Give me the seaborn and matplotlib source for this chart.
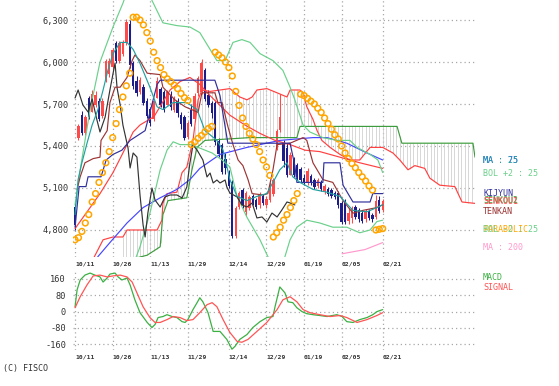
import numpy as np
import matplotlib
matplotlib.use("Agg")
import matplotlib.pyplot as plt
import seaborn as sns

# day index 0 = 10/11, last candle (02/21) = 90
date_pos = [0, 11, 22, 33, 45, 56, 67, 78, 90]
date_labels = ['10/11', '10/26', '11/13', '11/29', '12/14', '12/29', '01/19', '02/05', '02/21']
price_ticks = [4800, 5100, 5400, 5700, 6000, 6300]
macd_ticks = [-160, -80, 0, 80, 160]

# daily candles
opens = [4960, 5460, 5620, 5500, 5740, 5650, 5700, 5720, 5620, 5880,
         5920, 5970, 6130, 6010, 6060, 6140, 6270, 5990, 5860, 5790,
         5820, 5720, 5660, 5600, 5750, 5800, 5780, 5700, 5760, 5660,
         5720, 5620, 5600, 5470, 5650, 5600, 5780, 5790, 5940, 5760,
         5700, 5700, 5430, 5400, 5300, 5200, 5140, 4760, 4970, 5080,
         4930, 4960, 5040, 5010, 4980, 5040, 4980, 5020, 5060, 5380,
         5520, 5420, 5380, 5200, 5300, 5260, 5230, 5170, 5140, 5180,
         5150, 5120, 5140, 5080, 5090, 5080, 5060, 5060, 4990, 5000,
         4870, 4890, 4960, 4940, 4920, 4880, 4930, 4900, 4900, 5010,
         4950]
closes = [4840, 5540, 5500, 5600, 5610, 5770, 5760, 5600, 5720, 6000,
          6000, 6080, 6010, 6130, 6140, 6280, 5980, 5830, 5780, 5870,
          5710, 5620, 5570, 5720, 5860, 5700, 5660, 5780, 5680, 5740,
          5640, 5560, 5460, 5560, 5560, 5750, 5880, 5990, 5740, 5700,
          5640, 5430, 5350, 5220, 5250, 5120, 4760, 4950, 5060, 4980,
          5060, 5030, 5000, 4970, 5050, 5000, 5020, 5120, 5150, 5500,
          5600, 5300, 5200, 5330, 5200, 5180, 5160, 5150, 5220, 5140,
          5110, 5150, 5100, 5110, 5060, 5050, 5040, 4980, 4860, 4860,
          4920, 4950, 4900, 4880, 4870, 4930, 4890, 4880, 5000, 4940,
          5000]
highs = [4990, 5560, 5650, 5620, 5760, 5800, 5790, 5740, 5740, 6020,
         6030, 6100, 6150, 6150, 6160, 6310, 6300, 6010, 5900, 5890,
         5840, 5740, 5680, 5730, 5890, 5820, 5800, 5800, 5790, 5760,
         5740, 5640, 5620, 5580, 5700, 5780, 5900, 6020, 5960, 5800,
         5720, 5720, 5460, 5420, 5350, 5230, 5160, 4970, 5080, 5100,
         5080, 5050, 5060, 5030, 5070, 5060, 5040, 5140, 5170, 5520,
         5770, 5440, 5420, 5360, 5320, 5280, 5250, 5200, 5240, 5200,
         5170, 5170, 5160, 5130, 5110, 5100, 5080, 5080, 5010, 5020,
         4960, 4970, 4980, 4960, 4940, 4950, 4950, 4920, 5050, 5040,
         5020]
lows = [4800, 5440, 5480, 5480, 5590, 5640, 5680, 5580, 5600, 5860,
        5890, 5950, 5990, 5990, 6040, 6120, 5960, 5810, 5760, 5770,
        5690, 5600, 5540, 5580, 5740, 5680, 5640, 5690, 5660, 5640,
        5610, 5520, 5440, 5450, 5540, 5580, 5760, 5770, 5720, 5680,
        5600, 5410, 5320, 5200, 5200, 5100, 4740, 4740, 4950, 4960,
        4900, 4940, 4980, 4950, 4960, 4980, 4960, 5000, 5040, 5370,
        5500, 5250, 5180, 5190, 5180, 5160, 5140, 5120, 5120, 5120,
        5090, 5100, 5080, 5060, 5040, 5030, 5020, 4960, 4840, 4840,
        4840, 4850, 4880, 4860, 4850, 4860, 4870, 4860, 4880, 4920,
        4930]

# lagging span
chikou_x = [0, 0.9, 2.3, 3.8, 5, 6.4, 7.3, 8.8, 10.2, 11.7, 12.3, 13.2, 14, 15.5, 16.1,
            17, 18.1, 19, 19.9, 20.5, 21.3, 22.5, 23.4, 24.9, 26.3, 27.8, 29.8, 31.3, 32.7,
            33.6, 34.5, 35.7, 37.4, 38.6, 39.5, 40.4, 41.5, 42.4, 43.9, 44.4, 45.3, 47.4,
            48.8, 50.3, 51.8, 53.2, 54.7, 56.1, 57.6, 59.1, 60.5, 62, 62.9, 64.3]
chikou_y = [5743, 5800, 5693, 5643, 5736, 5586, 5500, 5607, 5800, 5993, 5814, 5693, 5550,
            5386, 5243, 5350, 5321, 5050, 4836, 4750, 4921, 5100, 5014, 4964, 5036, 5050,
            5050, 5029, 5107, 5279, 5407, 5371, 5300, 5179, 5207, 5136, 5157, 5136, 5157,
            5107, 5064, 5036, 4979, 4964, 4993, 4886, 4893, 4857, 4921, 4893, 4943, 5000,
            4993, 4979]

kijun_x = [0, 1.2, 3.2, 3.8, 7.6, 9.1, 11.1, 13.7, 16.1, 20.5, 21.9, 24, 24.9, 40.9, 42.4,
           44.7, 62.9, 64.3, 64.9, 72.5, 72.8, 77.5, 78.4, 81.3, 86.3, 87.1, 90]
kijun_y = [4820, 5110, 5110, 5180, 5180, 5300, 5340, 5370, 5440, 5510, 5640, 5840, 5870,
           5870, 5760, 5420, 5420, 5260, 5140, 5140, 5280, 5280, 5120, 5000, 5000, 5060, 5060]

tenkan_x = [0.6, 1.5, 2.9, 5.3, 7.3, 7.6, 9.4, 10.2, 11.7, 13.2, 15.2, 16.7, 17.5, 19, 21.1,
            24.9, 25.7, 29.2, 32.2, 36, 37.1, 40.9, 41.8, 43, 44.7, 46.2, 47.7, 49.1, 50.6,
            51.8, 55, 56.4, 57.9, 59.1, 62.9, 66.7, 67.8, 69.6, 72.5, 75.4, 78.4, 81.3,
            84.2, 88.3, 90]
tenkan_y = [5090, 5180, 5280, 5310, 5320, 5440, 5510, 5710, 5820, 5820, 5890, 6010, 6050,
            6010, 5920, 5910, 5820, 5730, 5680, 5640, 5780, 5780, 5710, 5710, 5540, 5410,
            5300, 5260, 5160, 5060, 5050, 5060, 5230, 5410, 5420, 5460, 5440, 5280, 5160,
            5140, 5010, 4920, 4940, 4960, 4980]

ma_short_x = [0, 0.9, 2, 3.5, 5, 6.7, 8.2, 9.6, 11.1, 13.2, 15.2, 17, 19, 21.9, 24, 25.7,
              28.7, 32.7, 35.7, 38, 41.5, 43.3, 45.3, 47.4, 50.3, 53.2, 56.1, 57.9, 59.9,
              62, 63.7, 65.8, 69.6, 73.7, 77.5, 81.3, 85.4, 88.3, 90]
ma_short_y = [4910, 5160, 5280, 5420, 5550, 5660, 5800, 5940, 6060, 6140, 6140, 6090, 5990,
              5820, 5680, 5660, 5710, 5710, 5660, 5510, 5440, 5370, 5160, 5040, 5010, 5040,
              5060, 5140, 5230, 5280, 5180, 5140, 5090, 5070, 5040, 4940, 4930, 4960, 4980]

bol_up_x = [0, 1.5, 4.4, 7.3, 11.1, 14, 15.5, 21.3, 22.5, 25.7, 29.8, 33.6, 36.5, 39.5,
            41.5, 43.9, 46.2, 48.8, 51.2, 54.1, 57.9, 60.8, 62.9, 64.3, 66.7, 68.7, 72.5,
            76.6, 80.4, 82.5, 86.3, 88.6, 90]
bol_up_y = [4980, 5230, 5660, 6000, 6250, 6420, 6520, 6520, 6440, 6280, 6260, 6250, 6210,
            6090, 6010, 6010, 6140, 6160, 6140, 6060, 6010, 5940, 5820, 5730, 5550, 5500,
            5460, 5440, 5440, 5390, 5340, 5300, 5210]

bol_dn_x = [17, 19, 21.9, 24.9, 26.9, 28.7, 30.7, 33.6, 36, 40.1, 43, 45.3, 47.4, 50.3,
            54.1, 56.4, 58.5, 60.5, 61.4, 62.9, 64.9, 67.8, 71.6, 75.4, 79.5, 83.3, 86.3,
            88.3, 90]
bol_dn_y = [4550, 4680, 4920, 5230, 5370, 5430, 5410, 5410, 5390, 5350, 5300, 5250, 5040,
            4890, 4730, 4610, 4530, 4530, 4610, 4730, 4820, 4870, 4850, 4820, 4820, 4780,
            4800, 4860, 4870]

senkou1_x = [4.4, 8.2, 11.1, 14, 15.2, 24, 25.4, 25.7, 26.9, 29.8, 31.3, 32.7, 34.5, 36,
             37.1, 39.5, 42.4, 45.3, 48.2, 50.3, 51.8, 53.2, 56.1, 59.1, 62, 62.9, 65.8,
             66.7, 67.8, 69.6, 70.8, 72.2, 74.6, 77.5, 80.4, 83.3, 86.3, 90, 93, 95, 97.4,
             99.4, 102.3, 103.8, 106.7, 111.1, 113.2, 117]
senkou1_y = [4550, 4730, 4750, 4750, 4800, 4800, 4870, 4990, 5060, 5070, 5210, 5250, 5440,
             5730, 5800, 5790, 5800, 5810, 5750, 5730, 5750, 5800, 5810, 5780, 5750, 5800,
             5800, 5780, 5680, 5590, 5510, 5440, 5390, 5340, 5300, 5300, 5390, 5390, 5350,
             5300, 5230, 5260, 5240, 5170, 5120, 5110, 5000, 4990]

senkou2_x = [13.2, 21.1, 24.9, 25.7, 27.2, 32.7, 34.2, 35.7, 38, 51.2, 64.9, 65.8, 94.2,
             95.6, 116.4, 117]
senkou2_y = [4570, 4620, 4680, 4910, 5010, 5030, 5230, 5390, 5440, 5460, 5460, 5540, 5540,
             5420, 5420, 5320]

ma_red_x = [0, 4.4, 7.3, 11.1, 14, 17, 19, 23.1, 27.8, 30.7, 33.6, 36.5, 39.5, 42.4, 45.3,
            49.7, 54.1, 58.5, 62.9, 67.3, 71.6, 77.5, 83.3, 90]
ma_red_y = [4810, 4960, 5060, 5210, 5350, 5500, 5550, 5610, 5800, 5860, 5890, 5840, 5760,
            5690, 5620, 5550, 5490, 5440, 5410, 5370, 5360, 5320, 5280, 5240]

ma75_x = [4.4, 6.7, 10.2, 15.2, 19.9, 24.9, 29.8, 33.6, 36.5, 42.4, 50.3, 59.9, 69.6, 73.7,
          79.5, 85.4, 90]
ma75_y = [4510, 4610, 4710, 4850, 4960, 5030, 5090, 5160, 5240, 5340, 5390, 5440, 5460,
          5460, 5420, 5350, 5300]

ma200_x = [78.1, 84.8, 90]
ma200_y = [4630, 4660, 4710]

sar_y = [4730, 4745, 4790, 4850, 4910, 5000, 5060, 5140, 5210, 5280, 5360, 5460, 5560,
         5660, 5750, 5830, 5920,
         6320, 6320, 6300, 6265, 6210, 6150, 6070, 6010, 5960, 5910, 5880, 5860, 5835,
         5810, 5775, 5745, 5725,
         5410, 5430, 5455, 5475, 5500, 5525, 5540,
         6070, 6050, 6030, 6000, 5960, 5900, 5790, 5690, 5600, 5540, 5490, 5450, 5410,
         5360, 5300, 5250, 5190,
         4750, 4780, 4820, 4870, 4910, 4960, 5010, 5060,
         5770, 5760, 5740, 5720, 5700, 5670, 5640, 5600, 5560, 5520, 5480, 5450, 5400,
         5350, 5310, 5275, 5245, 5210, 5180, 5150, 5115, 5085,
         4800, 4805, 4810]

macd_x = [0, 0.6, 1.5, 2.9, 4.4, 5.8, 7.3, 8.2, 9.4, 10.2, 11.7, 12.6, 13.7, 15.2, 16.1,
          17.5, 19, 21.1, 22.5, 23.4, 24.3, 25.7, 26.9, 28.4, 29.8, 31.3, 32.2, 33, 34.5,
          35.7, 36.5, 37.4, 38.9, 40.4, 42.4, 44.4, 45.9, 46.8, 48.2, 50.3, 52, 54.1, 56.1,
          57.9, 58.5, 59.9, 61.4, 62.3, 63.7, 64.9, 66.4, 67.8, 69.6, 71.6, 73.7, 76.6,
          78.1, 79.5, 81.3, 83.3, 85.4, 87.1, 88.3, 90]
macd_y = [24, 107, 155, 179, 189, 179, 170, 145, 165, 184, 189, 170, 155, 165, 131, 58, -5,
          -53, -78, -63, -29, -24, -15, -24, -29, -49, -53, -39, 10, 44, 68, 48, -5, -97,
          -97, -136, -184, -170, -136, -112, -78, -49, -29, -24, 24, 121, 92, 48, 44, 19, 0,
          -10, -15, -19, -24, -15, -24, -49, -53, -39, -29, -15, 0, 10]
signal_x = [0, 1.5, 3.5, 5.3, 7.3, 9.4, 11.1, 13.2, 15.2, 16.7, 18.1, 19.9, 21.9, 23.4,
            24.9, 26.9, 28.7, 30.7, 32.7, 34.5, 36.5, 38.6, 40.1, 41.5, 43.3, 45.3, 47.4,
            48.8, 50.6, 53.2, 56.1, 59.1, 60.8, 62.9, 64.9, 66.7, 68.7, 71.6, 74.6, 77.5,
            79.5, 82.5, 85.4, 88.3, 90]
signal_y = [19, 73, 131, 175, 179, 170, 175, 179, 170, 145, 92, 24, -29, -53, -53, -39,
            -24, -29, -44, -39, -5, 34, 44, 24, -39, -102, -146, -150, -136, -97, -53, 10,
            58, 73, 48, 10, -5, -15, -24, -19, -29, -53, -39, -19, -5]

sns.set_theme(style="white")
plt.rcParams['font.family'] = ['DejaVu Sans Mono']

fig = plt.figure(figsize=(5.59, 3.86), dpi=100)
W, H = 559.0, 386.0
ax = fig.add_axes([73 / W, 1 - 257 / H, 402 / W, 257 / H])
ax2 = fig.add_axes([73 / W, 1 - 350 / H, 402 / W, 80 / H])

grid_kw = dict(color='#a8a8a8', linestyle=(0, (1, 2.4)), linewidth=0.9)
for a in (ax, ax2):
    a.set_xlim(-0.6, 117)
    for s in a.spines.values():
        s.set_visible(False)
    a.set_xticks(date_pos)
    a.set_xticklabels(date_labels, fontsize=4.6, fontweight='bold', color='#333333')
    for lab in a.get_xticklabels():
        lab.set_horizontalalignment('left')
    a.tick_params(length=0, pad=3)
    a.set_facecolor('white')

ax.set_ylim(4607, 6443)
ax.set_yticks(price_ticks)
ax.set_yticklabels([f'{v:,}' for v in price_ticks], fontsize=6.2, color='#333333')
ax.tick_params(axis='y', pad=3)
ax2.set_ylim(-188, 204)
ax2.set_yticks(macd_ticks)
ax2.set_yticklabels([str(v) for v in macd_ticks], fontsize=6.2, color='#333333')
ax2.tick_params(axis='y', pad=5)

# dotted grid, horizontal across full width, vertical at dates
for a, ticks in ((ax, price_ticks), (ax2, macd_ticks)):
    for t in ticks:
        a.axhline(t, zorder=0.5, **grid_kw)
    for d in date_pos:
        a.axvline(d, zorder=0.5, **grid_kw)

# cloud hatching (one thin line per day)
for d in range(14, 117):
    v1 = np.interp(d, senkou1_x, senkou1_y)
    v2 = np.interp(d, senkou2_x, senkou2_y)
    ax.vlines(d, min(v1, v2), max(v1, v2), color='#cdcdcd', lw=0.55, zorder=0.6)

# candles
idx = np.arange(len(closes))
o = np.array(opens); c = np.array(closes)
up = c >= o
cols = np.where(up, '#ff4a4a', '#1d1d8a')
ax.vlines(idx, lows, highs, colors=cols, lw=0.75, zorder=2)
ax.bar(idx, np.abs(c - o) + 8, bottom=np.minimum(o, c) - 4, width=0.7, color=cols,
       linewidth=0, zorder=2.1)

line_specs = [
    (senkou1_x, senkou1_y, '#ff4040'),
    (senkou2_x, senkou2_y, '#3c9c3c'),
    (ma75_x, ma75_y, '#4646ff'),
    (ma_red_x, ma_red_y, '#ff4040'),
    (bol_up_x, bol_up_y, '#6ad08a'),
    (bol_dn_x, bol_dn_y, '#6ad08a'),
    (ma200_x, ma200_y, '#ff99cc'),
    (chikou_x, chikou_y, '#333333'),
    (tenkan_x, tenkan_y, '#9c3434'),
    (kijun_x, kijun_y, '#30309c'),
    (ma_short_x, ma_short_y, '#22a0a0'),
]
for xs, ys, col in line_specs:
    sns.lineplot(x=xs, y=ys, ax=ax, color=col, lw=0.85, estimator=None, sort=False,
                 legend=False, zorder=3)

ax.scatter(idx, sar_y, s=17, facecolors='none', edgecolors='#ffa500', linewidths=1.1,
           zorder=4)

sns.lineplot(x=macd_x, y=macd_y, ax=ax2, color='#3cb043', lw=0.9, estimator=None,
             sort=False, legend=False, zorder=3)
sns.lineplot(x=signal_x, y=signal_y, ax=ax2, color='#ff5555', lw=0.9, estimator=None,
             sort=False, legend=False, zorder=3)
for a in (ax, ax2):
    a.set_xlabel('')
    a.set_ylabel('')

# right-hand labels (the source stacks some of them on top of each other)
lx = 483 / W
def label(py, text, col):
    fig.text(lx, 1 - py / H, text, color=col, fontsize=6, va='center', ha='left')

label(161, 'MA : 75', '#4646ff')
label(161, 'MA : 25', '#22a0a0')
label(173, 'BOL +2 : 25', '#6ad08a')
label(193, 'KIJYUN', '#30309c')
label(201, 'SENKOU2', '#3c9c3c')
label(202, 'SENKOU1', '#ff4040')
label(212, 'TENKAN', '#9c3434')
label(229, 'PARABOLIC', '#ffa500')
label(229, 'BOL -2 : 25', '#6ad08a')
label(247, 'MA : 200', '#ff99cc')
label(277, 'MACD', '#3cb043')
label(288, 'SIGNAL', '#ff5555')

fig.text(3 / W, 1 - 369 / H, '(C) FISCO', color='#333333', fontsize=6, va='center')

fig.savefig('out.png', dpi=100)
